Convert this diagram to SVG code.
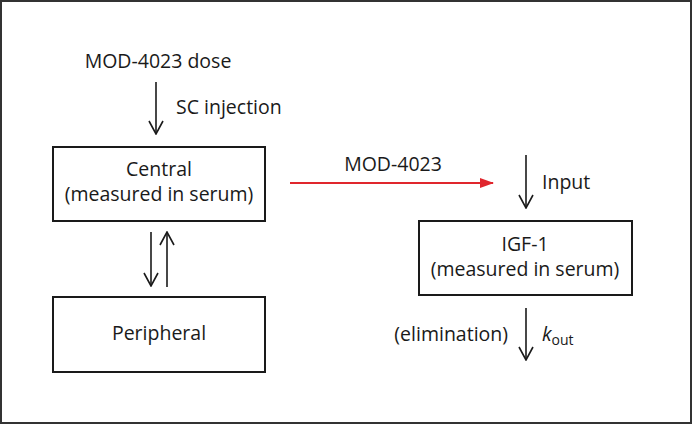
<svg xmlns="http://www.w3.org/2000/svg" width="693" height="425" viewBox="0 0 693 425">
<defs>
<marker id="open" viewBox="0 0 16 16" refX="15" refY="8" markerWidth="16" markerHeight="16" markerUnits="userSpaceOnUse" orient="auto">
<path d="M2,1 L15,8 L2,15" fill="none" stroke="#1a1a1a" stroke-width="1.6"/>
</marker>
<marker id="red" viewBox="0 0 14 10" refX="13" refY="5" markerWidth="14" markerHeight="10" markerUnits="userSpaceOnUse" orient="auto">
<path d="M0,0 L14,5 L0,10 Z" fill="#e0262d"/>
</marker>
<style>
text{font-family:"Open Sans","Noto Sans","Liberation Sans",sans-serif;font-size:19.5px;fill:#1a1a1a}
.box{fill:#fff;stroke:#1a1a1a;stroke-width:2}
.c{text-anchor:middle}
.arr{stroke:#1a1a1a;stroke-width:1.6;fill:none}
</style>
</defs>
<rect x="1" y="1" width="690" height="422" fill="#fff" stroke="#333" stroke-width="2"/>
<g id="central">
<rect class="box" x="53" y="147" width="212" height="74"/>
<text class="c" x="159" y="176">Central</text>
<text class="c" x="159" y="201">(measured in serum)</text>
</g>
<g id="peripheral">
<rect class="box" x="53" y="297" width="212" height="75"/>
<text class="c" x="159" y="340">Peripheral</text>
</g>
<g id="igf1">
<rect class="box" x="419" y="221" width="213" height="74"/>
<text class="c" x="525" y="251">IGF-1</text>
<text class="c" x="525" y="276">(measured in serum)</text>
</g>
<g id="connectors">
<text class="c" x="158" y="68">MOD-4023 dose</text>
<line class="arr" x1="156" y1="82" x2="156" y2="134" marker-end="url(#open)"/>
<text x="176" y="114">SC injection</text>
<line class="arr" x1="151" y1="232" x2="151" y2="286" marker-end="url(#open)"/>
<line class="arr" x1="167" y1="287" x2="167" y2="232" marker-end="url(#open)"/>
<line x1="290" y1="183" x2="493" y2="183" stroke="#e0262d" stroke-width="2" marker-end="url(#red)"/>
<text class="c" x="393" y="171">MOD-4023</text>
<line class="arr" x1="526" y1="155" x2="526" y2="208" marker-end="url(#open)"/>
<text x="542" y="189">Input</text>
<line class="arr" x1="526" y1="308" x2="526" y2="360" marker-end="url(#open)"/>
<text x="508" y="341" text-anchor="end">(elimination)</text>
<text x="542" y="341"><tspan font-style="italic">k</tspan><tspan font-size="14" dy="4">out</tspan></text>
</g>
</svg>
